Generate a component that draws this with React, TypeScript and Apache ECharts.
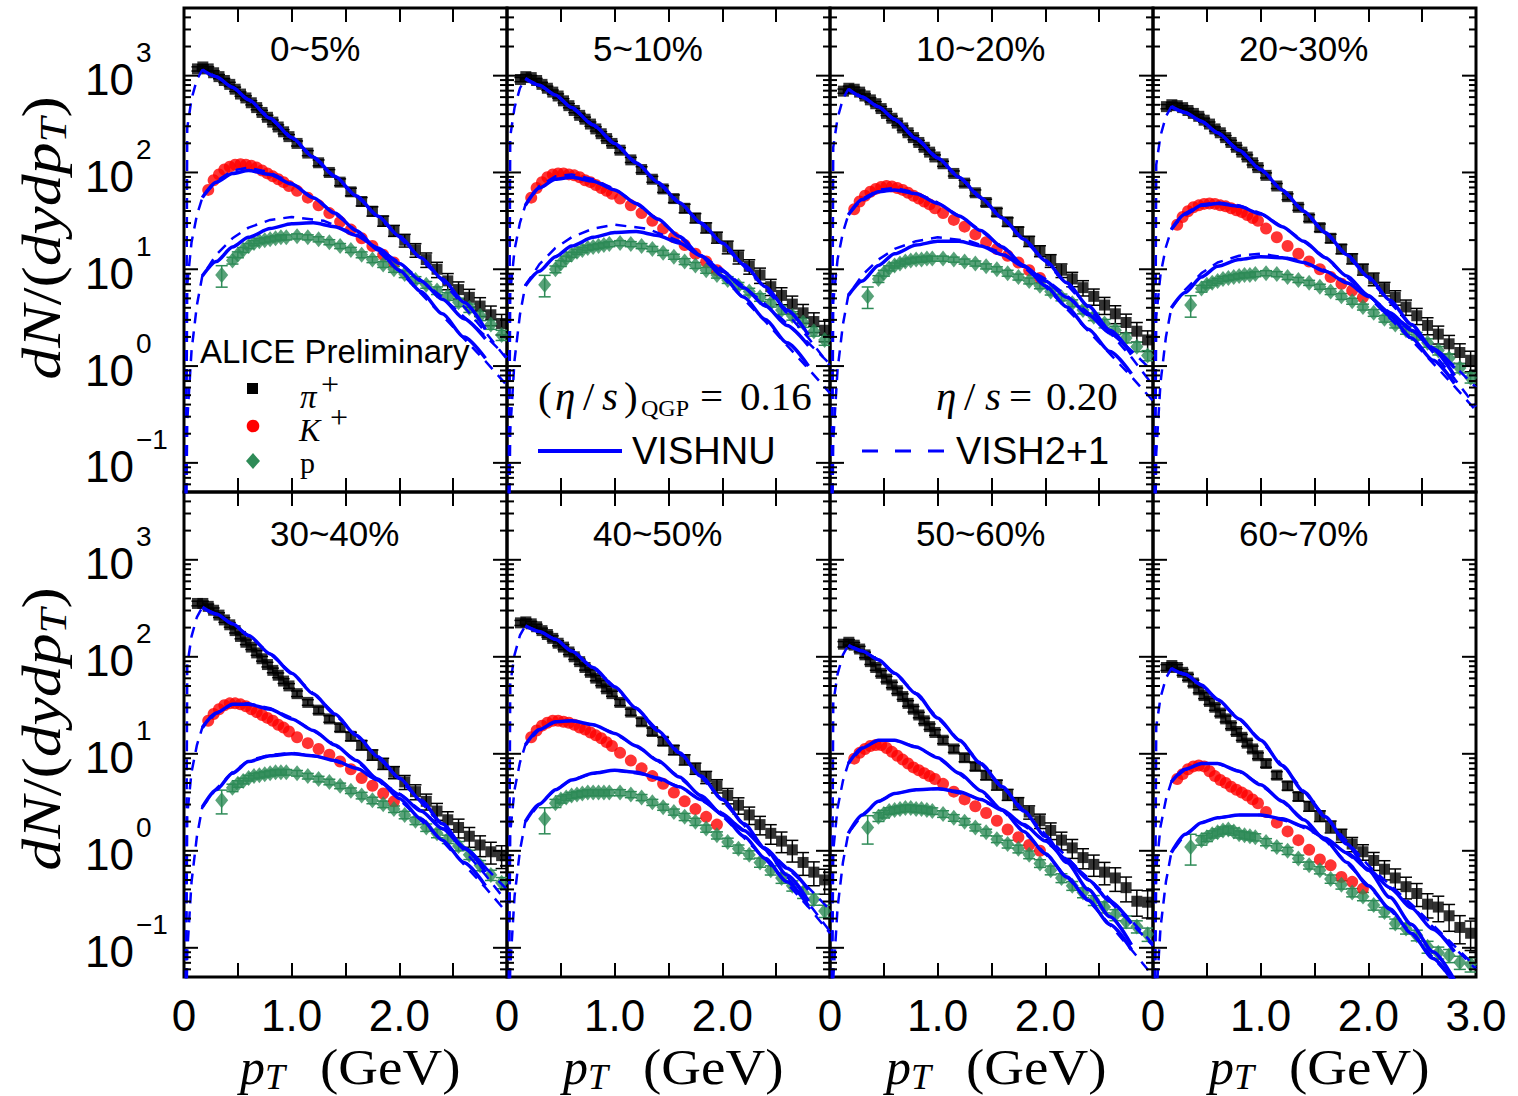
import React, { useEffect, useRef } from 'react';
import * as echarts from 'echarts';

const SANS = '"Liberation Sans", Arial, Helvetica, sans-serif';
const SERIF = '"Liberation Serif", "Times New Roman", serif';

const centralityLabels = ['0~5%', '5~10%', '10~20%', '20~30%', '30~40%', '40~50%', '50~60%', '60~70%'];

// pT grids (GeV)
const pionPt = [0.125, 0.175, 0.225, 0.275, 0.325, 0.375, 0.425, 0.475, 0.525, 0.575, 0.625, 0.675, 0.725, 0.775, 0.825, 0.875, 0.925, 0.975,
  1.05, 1.15, 1.25, 1.35, 1.45, 1.55, 1.65, 1.75, 1.85, 1.95, 2.05, 2.15, 2.25, 2.35, 2.45, 2.55, 2.65, 2.75, 2.85, 2.95];
const kaonPt = [0.225, 0.275, 0.325, 0.375, 0.425, 0.475, 0.525, 0.575, 0.625, 0.675, 0.725, 0.775, 0.825, 0.875, 0.925, 0.975,
  1.05, 1.15, 1.25, 1.35, 1.45, 1.55, 1.65, 1.75, 1.85, 1.95];
const protonPt = [0.35, 0.45, 0.5, 0.55, 0.6, 0.65, 0.7, 0.75, 0.8, 0.85, 0.9, 0.95,
  1.05, 1.15, 1.25, 1.35, 1.45, 1.55, 1.65, 1.75, 1.85, 1.95, 2.05, 2.15, 2.25, 2.35, 2.45, 2.55, 2.65, 2.75, 2.85, 2.95];
const vishnuPt = [0.17, 0.3, 0.45, 0.6, 0.8, 1.0, 1.2, 1.4, 1.6, 1.8, 2.0, 2.2, 2.4, 2.6, 2.8];
const vish2p1Pt = [0.012, 0.03, 0.07, 0.12, 0.17, 0.3, 0.45, 0.6, 0.8, 1.0, 1.3, 1.6, 2.0, 2.4, 2.8, 3.0];

// ALICE preliminary data, log10 of dN/(dy dpT), one row per centrality class
const pionLog10 = [
  [3.07, 3.09, 3.07, 3.03, 2.99, 2.95, 2.91, 2.86, 2.81, 2.77, 2.72, 2.67, 2.62, 2.57, 2.52, 2.47, 2.42, 2.37, 2.30, 2.20, 2.10, 2.00, 1.90, 1.80, 1.70, 1.60, 1.50, 1.40, 1.30, 1.20, 1.10, 1.00, 0.88, 0.79, 0.71, 0.62, 0.53, 0.44],
  [2.96, 2.99, 2.98, 2.95, 2.91, 2.87, 2.83, 2.79, 2.74, 2.69, 2.64, 2.59, 2.55, 2.50, 2.45, 2.40, 2.35, 2.30, 2.23, 2.13, 2.03, 1.93, 1.83, 1.73, 1.63, 1.53, 1.43, 1.33, 1.23, 1.13, 1.03, 0.94, 0.82, 0.73, 0.64, 0.55, 0.46, 0.37],
  [2.84, 2.87, 2.86, 2.83, 2.79, 2.75, 2.71, 2.66, 2.61, 2.56, 2.51, 2.46, 2.41, 2.36, 2.31, 2.26, 2.21, 2.16, 2.09, 1.99, 1.89, 1.79, 1.69, 1.59, 1.49, 1.39, 1.29, 1.19, 1.09, 0.99, 0.90, 0.81, 0.72, 0.63, 0.54, 0.45, 0.36, 0.27],
  [2.68, 2.70, 2.69, 2.67, 2.64, 2.61, 2.58, 2.54, 2.50, 2.45, 2.41, 2.36, 2.31, 2.26, 2.21, 2.16, 2.10, 2.05, 1.97, 1.86, 1.75, 1.64, 1.53, 1.43, 1.32, 1.21, 1.11, 1.00, 0.90, 0.80, 0.71, 0.61, 0.52, 0.42, 0.33, 0.23, 0.14, 0.06],
  [2.55, 2.55, 2.52, 2.48, 2.43, 2.38, 2.33, 2.27, 2.21, 2.15, 2.10, 2.04, 1.98, 1.92, 1.86, 1.81, 1.75, 1.70, 1.62, 1.53, 1.45, 1.36, 1.27, 1.18, 1.09, 0.99, 0.90, 0.81, 0.71, 0.61, 0.51, 0.41, 0.32, 0.24, 0.15, 0.06, -0.01, -0.05],
  [2.35, 2.36, 2.34, 2.31, 2.27, 2.23, 2.19, 2.14, 2.10, 2.05, 2.00, 1.95, 1.89, 1.84, 1.78, 1.73, 1.67, 1.62, 1.53, 1.43, 1.33, 1.23, 1.13, 1.04, 0.94, 0.85, 0.76, 0.67, 0.57, 0.47, 0.37, 0.27, 0.18, 0.10, 0.01, -0.12, -0.22, -0.30],
  [2.13, 2.15, 2.12, 2.08, 2.02, 1.95, 1.89, 1.83, 1.77, 1.71, 1.65, 1.59, 1.52, 1.46, 1.40, 1.34, 1.28, 1.22, 1.14, 1.05, 0.96, 0.87, 0.78, 0.68, 0.58, 0.49, 0.40, 0.31, 0.21, 0.11, 0.03, -0.07, -0.14, -0.22, -0.28, -0.38, -0.52, -0.53],
  [1.89, 1.91, 1.89, 1.84, 1.79, 1.73, 1.66, 1.60, 1.54, 1.48, 1.42, 1.36, 1.29, 1.23, 1.17, 1.11, 1.05, 0.98, 0.90, 0.78, 0.67, 0.56, 0.46, 0.36, 0.25, 0.16, 0.07, -0.01, -0.10, -0.19, -0.28, -0.37, -0.44, -0.55, -0.58, -0.67, -0.79, -0.85],
];
const kaonLog10 = [
  [1.82, 1.92, 1.98, 2.03, 2.06, 2.08, 2.085, 2.08, 2.07, 2.05, 2.02, 1.99, 1.96, 1.93, 1.90, 1.86, 1.81, 1.74, 1.66, 1.58, 1.49, 1.41, 1.32, 1.24, 1.15, 1.07],
  [1.74, 1.84, 1.90, 1.95, 1.98, 1.99, 1.99, 1.98, 1.97, 1.95, 1.92, 1.90, 1.87, 1.84, 1.81, 1.78, 1.73, 1.66, 1.58, 1.50, 1.42, 1.33, 1.25, 1.16, 1.08, 0.99],
  [1.62, 1.70, 1.76, 1.80, 1.83, 1.85, 1.86, 1.855, 1.84, 1.82, 1.79, 1.76, 1.73, 1.70, 1.67, 1.63, 1.58, 1.51, 1.44, 1.36, 1.28, 1.21, 1.14, 1.07, 0.99, 0.91],
  [1.46, 1.54, 1.60, 1.64, 1.66, 1.675, 1.68, 1.675, 1.66, 1.65, 1.63, 1.61, 1.59, 1.56, 1.53, 1.50, 1.42, 1.33, 1.24, 1.16, 1.08, 1.00, 0.92, 0.85, 0.78, 0.71],
  [1.34, 1.41, 1.46, 1.50, 1.52, 1.52, 1.51, 1.49, 1.46, 1.43, 1.40, 1.37, 1.34, 1.30, 1.27, 1.23, 1.17, 1.11, 1.05, 0.99, 0.92, 0.84, 0.75, 0.67, 0.59, 0.51],
  [1.17, 1.24, 1.29, 1.32, 1.34, 1.34, 1.33, 1.32, 1.30, 1.27, 1.25, 1.22, 1.19, 1.16, 1.12, 1.08, 1.01, 0.93, 0.85, 0.77, 0.69, 0.60, 0.51, 0.43, 0.35, 0.27],
  [0.95, 1.01, 1.05, 1.08, 1.09, 1.09, 1.06, 1.02, 0.98, 0.94, 0.90, 0.86, 0.83, 0.80, 0.77, 0.74, 0.69, 0.61, 0.53, 0.46, 0.39, 0.31, 0.22, 0.14, 0.06, 0.00],
  [0.74, 0.79, 0.84, 0.87, 0.88, 0.87, 0.82, 0.77, 0.73, 0.70, 0.66, 0.63, 0.60, 0.57, 0.53, 0.49, 0.40, 0.29, 0.20, 0.11, 0.01, -0.09, -0.15, -0.27, -0.32, -0.39],
];
const protonLog10 = [
  [0.94, 1.09, 1.15, 1.20, 1.24, 1.27, 1.29, 1.30, 1.31, 1.32, 1.33, 1.33, 1.34, 1.33, 1.31, 1.28, 1.24, 1.20, 1.15, 1.10, 1.05, 1.00, 0.95, 0.89, 0.84, 0.78, 0.72, 0.66, 0.60, 0.52, 0.43, 0.32],
  [0.84, 1.00, 1.06, 1.11, 1.15, 1.18, 1.20, 1.22, 1.23, 1.24, 1.25, 1.26, 1.27, 1.26, 1.24, 1.21, 1.17, 1.13, 1.08, 1.04, 0.99, 0.94, 0.89, 0.83, 0.77, 0.71, 0.65, 0.58, 0.52, 0.45, 0.36, 0.27],
  [0.72, 0.90, 0.96, 1.01, 1.04, 1.06, 1.08, 1.09, 1.10, 1.10, 1.11, 1.11, 1.11, 1.10, 1.08, 1.06, 1.03, 1.00, 0.96, 0.92, 0.88, 0.83, 0.77, 0.71, 0.65, 0.58, 0.51, 0.44, 0.37, 0.29, 0.20, 0.11],
  [0.63, 0.80, 0.84, 0.86, 0.88, 0.90, 0.91, 0.92, 0.93, 0.94, 0.94, 0.95, 0.96, 0.95, 0.92, 0.89, 0.86, 0.82, 0.77, 0.72, 0.67, 0.61, 0.55, 0.49, 0.43, 0.37, 0.31, 0.24, 0.16, 0.08, -0.02, -0.12],
  [0.52, 0.65, 0.69, 0.72, 0.75, 0.77, 0.78, 0.79, 0.80, 0.81, 0.81, 0.81, 0.80, 0.77, 0.74, 0.71, 0.67, 0.62, 0.57, 0.52, 0.48, 0.43, 0.37, 0.31, 0.24, 0.18, 0.12, 0.05, -0.04, -0.15, -0.25, -0.33],
  [0.33, 0.49, 0.53, 0.55, 0.57, 0.58, 0.59, 0.60, 0.60, 0.60, 0.60, 0.60, 0.60, 0.58, 0.55, 0.50, 0.45, 0.40, 0.35, 0.30, 0.23, 0.16, 0.09, 0.02, -0.04, -0.12, -0.20, -0.28, -0.36, -0.43, -0.50, -0.62],
  [0.24, 0.35, 0.38, 0.41, 0.42, 0.43, 0.44, 0.44, 0.43, 0.43, 0.42, 0.41, 0.38, 0.34, 0.30, 0.24, 0.19, 0.12, 0.07, 0.02, -0.04, -0.13, -0.20, -0.28, -0.36, -0.43, -0.51, -0.58, -0.66, -0.73, -0.78, -0.86],
  [0.04, 0.11, 0.14, 0.17, 0.19, 0.21, 0.22, 0.20, 0.17, 0.16, 0.15, 0.14, 0.09, 0.04, 0.00, -0.08, -0.15, -0.20, -0.29, -0.35, -0.43, -0.47, -0.56, -0.63, -0.75, -0.80, -0.87, -0.99, -1.05, -1.08, -1.15, -1.17],
];

// relative uncertainties
const pionRelErr = [0.05, 0.05, 0.05, 0.05, 0.05, 0.05, 0.05, 0.05, 0.05, 0.05, 0.05, 0.05, 0.05, 0.05, 0.05, 0.05, 0.05, 0.05,
  0.06, 0.06, 0.07, 0.07, 0.08, 0.09, 0.10, 0.11, 0.12, 0.13, 0.15, 0.16, 0.17, 0.18, 0.19, 0.20, 0.21, 0.22, 0.23, 0.24];
const protonRelErr = [0.25, 0.08, 0.07, 0.06, 0.06, 0.06, 0.06, 0.06, 0.06, 0.06, 0.06, 0.06,
  0.06, 0.06, 0.06, 0.06, 0.06, 0.06, 0.07, 0.07, 0.07, 0.07, 0.08, 0.08, 0.08, 0.09, 0.09, 0.10, 0.10, 0.11, 0.11, 0.12];
const errScale = [1, 1, 1, 1, 1.1, 1.2, 1.3, 1.4];

// VISHNU (solid), log10 values on vishnuPt
const vishnuPionLog10 = [
  [3.06, 2.99, 2.88, 2.75, 2.56, 2.36, 2.16, 1.96, 1.76, 1.55, 1.34, 1.12, 0.90, 0.66, 0.38],
  [2.97, 2.90, 2.80, 2.67, 2.49, 2.30, 2.10, 1.90, 1.69, 1.48, 1.27, 1.05, 0.82, 0.58, 0.32],
  [2.86, 2.78, 2.68, 2.55, 2.35, 2.15, 1.95, 1.74, 1.53, 1.31, 1.09, 0.86, 0.62, 0.37, 0.12],
  [2.68, 2.62, 2.53, 2.41, 2.23, 2.03, 1.82, 1.60, 1.38, 1.15, 0.92, 0.68, 0.43, 0.17, -0.10],
  [2.51, 2.44, 2.34, 2.22, 2.03, 1.83, 1.62, 1.41, 1.19, 0.97, 0.75, 0.52, 0.28, 0.03, -0.22],
  [2.32, 2.26, 2.18, 2.06, 1.89, 1.69, 1.47, 1.24, 1.01, 0.77, 0.53, 0.28, 0.02, -0.25, -0.52],
  [2.12, 2.06, 1.97, 1.83, 1.62, 1.37, 1.14, 0.90, 0.66, 0.41, 0.15, -0.12, -0.40, -0.68, -0.97],
  [1.88, 1.82, 1.71, 1.56, 1.36, 1.14, 0.88, 0.61, 0.35, 0.07, -0.20, -0.48, -0.76, -1.04, -1.33],
];
const vishnuKaonLog10 = [
  [1.74, 1.90, 1.99, 2.02, 1.98, 1.88, 1.74, 1.58, 1.40, 1.20, 0.99, 0.77, 0.54, 0.30, 0.08],
  [1.66, 1.84, 1.93, 1.95, 1.91, 1.82, 1.68, 1.52, 1.34, 1.14, 0.93, 0.71, 0.48, 0.24, 0.00],
  [1.56, 1.72, 1.80, 1.82, 1.78, 1.68, 1.55, 1.40, 1.23, 1.04, 0.83, 0.61, 0.38, 0.15, -0.08],
  [1.41, 1.57, 1.66, 1.68, 1.65, 1.57, 1.44, 1.29, 1.12, 0.93, 0.73, 0.52, 0.29, 0.06, -0.18],
  [1.27, 1.42, 1.51, 1.51, 1.46, 1.36, 1.24, 1.09, 0.93, 0.74, 0.54, 0.33, 0.11, -0.12, -0.36],
  [1.09, 1.25, 1.33, 1.34, 1.30, 1.21, 1.08, 0.93, 0.76, 0.57, 0.37, 0.15, -0.08, -0.32, -0.57],
  [0.90, 1.06, 1.14, 1.14, 1.07, 0.96, 0.80, 0.62, 0.42, 0.20, -0.03, -0.27, -0.51, -0.76, -1.02],
  [0.71, 0.84, 0.90, 0.90, 0.82, 0.68, 0.51, 0.32, 0.11, -0.12, -0.36, -0.60, -0.85, -1.11, -1.37],
];
const vishnuProtonLog10 = [
  [0.93, 1.08, 1.23, 1.33, 1.42, 1.47, 1.48, 1.44, 1.35, 1.22, 1.06, 0.88, 0.69, 0.49, 0.28],
  [0.83, 0.98, 1.13, 1.24, 1.33, 1.38, 1.39, 1.35, 1.27, 1.14, 0.98, 0.81, 0.62, 0.42, 0.21],
  [0.73, 0.88, 1.04, 1.16, 1.25, 1.29, 1.29, 1.24, 1.15, 1.03, 0.88, 0.71, 0.53, 0.34, 0.14],
  [0.60, 0.76, 0.92, 1.03, 1.10, 1.13, 1.12, 1.07, 0.98, 0.86, 0.72, 0.55, 0.37, 0.18, -0.02],
  [0.45, 0.63, 0.80, 0.92, 0.98, 1.00, 0.98, 0.93, 0.85, 0.73, 0.58, 0.41, 0.23, 0.03, -0.18],
  [0.30, 0.48, 0.63, 0.73, 0.80, 0.83, 0.81, 0.75, 0.66, 0.53, 0.38, 0.21, 0.02, -0.18, -0.40],
  [0.18, 0.37, 0.51, 0.59, 0.63, 0.64, 0.61, 0.53, 0.42, 0.27, 0.10, -0.09, -0.30, -0.52, -0.75],
  [-0.02, 0.17, 0.29, 0.34, 0.37, 0.37, 0.33, 0.25, 0.13, -0.02, -0.19, -0.38, -0.59, -0.81, -1.04],
];

// VISH2+1 (dashed), log10 values on vish2p1Pt
const vish2p1PionLog10 = [
  [-2.5, 2.46, 2.76, 2.96, 3.06, 2.99, 2.88, 2.75, 2.56, 2.36, 2.06, 1.76, 1.33, 0.88, 0.35, 0.07],
  [-2.5, 2.37, 2.67, 2.87, 2.97, 2.90, 2.80, 2.67, 2.49, 2.30, 2.00, 1.69, 1.26, 0.80, 0.29, 0.00],
  [-2.5, 2.26, 2.56, 2.76, 2.86, 2.78, 2.68, 2.55, 2.35, 2.15, 1.85, 1.53, 1.08, 0.60, 0.09, -0.20],
  [-2.5, 2.08, 2.38, 2.58, 2.68, 2.62, 2.53, 2.41, 2.23, 2.03, 1.71, 1.38, 0.91, 0.41, -0.13, -0.42],
  [-2.5, 1.91, 2.21, 2.41, 2.51, 2.44, 2.34, 2.22, 2.03, 1.83, 1.52, 1.19, 0.74, 0.26, -0.25, -0.53],
  [-2.5, 1.72, 2.02, 2.22, 2.32, 2.26, 2.18, 2.06, 1.89, 1.69, 1.36, 1.01, 0.52, 0.01, -0.54, -0.83],
  [-2.5, 1.52, 1.82, 2.02, 2.12, 2.06, 1.97, 1.83, 1.62, 1.37, 1.02, 0.66, 0.17, -0.30, -0.75, -0.98],
  [-2.5, 1.28, 1.58, 1.78, 1.88, 1.82, 1.71, 1.56, 1.36, 1.14, 0.75, 0.35, -0.15, -0.55, -0.98, -1.20],
];
const vish2p1KaonLog10 = [
  [-2.5, 0.84, 1.28, 1.56, 1.74, 1.91, 2.02, 2.05, 2.00, 1.89, 1.66, 1.40, 0.98, 0.52, 0.05, -0.20],
  [-2.5, 0.76, 1.20, 1.48, 1.66, 1.86, 1.96, 1.98, 1.93, 1.83, 1.60, 1.34, 0.92, 0.46, -0.03, -0.28],
  [-2.5, 0.66, 1.10, 1.38, 1.56, 1.73, 1.82, 1.84, 1.79, 1.69, 1.48, 1.23, 0.82, 0.36, -0.11, -0.36],
  [-2.5, 0.51, 0.95, 1.23, 1.41, 1.58, 1.67, 1.69, 1.66, 1.58, 1.37, 1.12, 0.72, 0.27, -0.21, -0.46],
  [-2.5, 0.37, 0.81, 1.09, 1.27, 1.42, 1.51, 1.52, 1.47, 1.37, 1.17, 0.93, 0.53, 0.10, -0.38, -0.64],
  [-2.5, 0.19, 0.63, 0.91, 1.09, 1.25, 1.33, 1.34, 1.30, 1.21, 1.01, 0.76, 0.36, -0.09, -0.58, -0.85],
  [-2.5, 0.00, 0.44, 0.72, 0.90, 1.06, 1.14, 1.14, 1.07, 0.96, 0.71, 0.42, -0.03, -0.51, -1.02, -1.29],
  [-2.5, -0.19, 0.25, 0.53, 0.71, 0.84, 0.90, 0.90, 0.82, 0.68, 0.42, 0.11, -0.36, -0.85, -1.35, -1.62],
];
const vish2p1ProtonLog10 = [
  [-2.5, -0.57, 0.16, 0.63, 0.93, 1.15, 1.32, 1.43, 1.51, 1.54, 1.50, 1.36, 1.07, 0.71, 0.31, 0.09],
  [-2.5, -0.67, 0.06, 0.53, 0.83, 1.05, 1.22, 1.33, 1.42, 1.46, 1.42, 1.29, 1.00, 0.64, 0.24, 0.02],
  [-2.5, -0.77, -0.04, 0.43, 0.73, 0.94, 1.10, 1.21, 1.29, 1.33, 1.29, 1.17, 0.90, 0.55, 0.16, -0.06],
  [-2.5, -0.90, -0.17, 0.30, 0.60, 0.79, 0.96, 1.07, 1.14, 1.16, 1.11, 0.99, 0.73, 0.38, 0.00, -0.22],
  [-2.5, -1.05, -0.32, 0.15, 0.45, 0.64, 0.81, 0.93, 0.99, 1.01, 0.96, 0.85, 0.59, 0.24, -0.17, -0.40],
  [-2.5, -1.20, -0.47, 0.00, 0.30, 0.48, 0.63, 0.73, 0.80, 0.83, 0.78, 0.66, 0.39, 0.03, -0.38, -0.61],
  [-2.5, -1.32, -0.59, -0.12, 0.18, 0.37, 0.51, 0.59, 0.63, 0.64, 0.57, 0.42, 0.10, -0.28, -0.72, -0.96],
  [-2.5, -1.52, -0.79, -0.32, -0.02, 0.17, 0.29, 0.34, 0.37, 0.37, 0.29, 0.13, -0.19, -0.57, -1.00, -1.22],
];

const majorTicks = [0.1, 1, 10, 100, 1000];
const minorTicks = [0.06, 0.07, 0.08, 0.09, 0.2, 0.3, 0.4, 0.5, 0.6, 0.7, 0.8, 0.9, 2, 3, 4, 5, 6, 7, 8, 9,
  20, 30, 40, 50, 60, 70, 80, 90, 200, 300, 400, 500, 600, 700, 800, 900, 2000, 3000, 4000];

const BLUE = '#0000ff';
const RED = '#ff0000';
const GREEN = '#2e8b57';

const PANEL_LEFT = 184;
const PANEL_W = 323;
const ROW_TOP = [8, 492];
const ROW_H = [484, 485];

function pts(x: number[], logs: number[]) {
  return x.map((v, k) => [v, Math.pow(10, logs[k])]);
}
function errPts(x: number[], logs: number[], rel: number[], s: number) {
  return x.map((v, k) => {
    const y = Math.pow(10, logs[k]);
    const e = rel[k] * s;
    return [v, y * (1 - e), y * (1 + e)];
  });
}

function errRender(color: string) {
  return (params: any, api: any) => {
    const x = api.value(0);
    const lo = api.value(1);
    const hi = api.value(2);
    const a = api.coord([x, lo]);
    const b = api.coord([x, hi]);
    const w = 6;
    const st = { stroke: color, lineWidth: 1.5 };
    return {
      type: 'group',
      children: [
        { type: 'line', shape: { x1: a[0], y1: a[1], x2: b[0], y2: b[1] }, style: st },
        { type: 'line', shape: { x1: b[0] - w, y1: b[1], x2: b[0] + w, y2: b[1] }, style: st },
        { type: 'line', shape: { x1: a[0] - w, y1: a[1], x2: a[0] + w, y2: a[1] }, style: st },
      ],
    };
  };
}

function txt(x: number, y: number, text: string, size: number, opts: any = {}) {
  const { family = SERIF, italic = false, align = 'left', scaleX = 1, lineHeight } = opts;
  const el: any = {
    type: 'text', x, y,
    style: {
      text, fontSize: size, fontFamily: family, fontStyle: italic ? 'italic' : 'normal', fill: '#000',
      align, verticalAlign: 'middle', lineHeight: lineHeight || Math.round(size * 1.05),
    },
  };
  if (scaleX !== 1) el.scaleX = scaleX;
  return el;
}

function buildOption() {
  const grid: any[] = [];
  const xAxis: any[] = [];
  const yAxis: any[] = [];
  const series: any[] = [];

  for (let i = 0; i < 8; i++) {
    const col = i % 4;
    const row = Math.floor(i / 4);
    grid.push({
      left: PANEL_LEFT + col * PANEL_W, top: ROW_TOP[row], width: PANEL_W, height: ROW_H[row],
      show: true, borderColor: '#000', borderWidth: 3, backgroundColor: 'transparent', containLabel: false,
    });
    const isLastCol = col === 3;
    const xFmt = (v: number) => {
      if (Math.abs(v) < 1e-9) return '0';
      if (Math.abs(v - 1) < 1e-9) return '1.0';
      if (Math.abs(v - 2) < 1e-9) return '2.0';
      if (Math.abs(v - 3) < 1e-9 && isLastCol) return '3.0';
      return '';
    };
    const xBase = {
      gridIndex: i, type: 'value', min: 0, max: 3, interval: 0.5,
      axisLine: { show: false },
      axisTick: { show: true, inside: true, length: 14, lineStyle: { color: '#000', width: 2 } },
      splitLine: { show: false },
    };
    xAxis.push({
      ...xBase, position: 'bottom',
      axisLabel: {
        show: row === 1, formatter: xFmt, fontSize: 44, fontFamily: SANS, color: '#000', margin: 16,
        hideOverlap: false, showMinLabel: true, showMaxLabel: true,
      },
    });
    xAxis.push({ ...xBase, position: 'top', axisLabel: { show: false } });

    yAxis.push({
      gridIndex: i, type: 'log', logBase: 10, min: 0.05, max: 5000, position: 'left',
      axisLine: { show: false }, axisTick: { show: false }, splitLine: { show: false },
      axisLabel: {
        show: col === 0, align: 'left', margin: 99,
        formatter: (v: number) => {
          const l = Math.log10(v);
          const e = Math.round(l);
          if (Math.abs(l - e) > 1e-6) return '';
          return `{a|10}{b|${e < 0 ? '\u2212' + (-e) : e}}`;
        },
        rich: {
          a: { fontSize: 44, fontFamily: SANS, color: '#000', padding: [8, 0, 0, 0] },
          b: { fontSize: 28, fontFamily: SANS, color: '#000', padding: [0, 0, 46, 2] },
        },
      },
    });

    const xi = 2 * i;
    const yi = i;
    const s = errScale[i];

    series.push({
      type: 'custom', xAxisIndex: xi, yAxisIndex: yi, clip: true, z: 2,
      encode: { x: 0, y: [1, 2] },
      data: errPts(pionPt, pionLog10[i], pionRelErr, s),
      renderItem: errRender('#000'),
    });
    series.push({
      type: 'custom', xAxisIndex: xi, yAxisIndex: yi, clip: true, z: 2,
      encode: { x: 0, y: [1, 2] },
      data: errPts(protonPt, protonLog10[i], protonRelErr, s),
      renderItem: errRender(GREEN),
    });
    series.push({
      type: 'scatter', xAxisIndex: xi, yAxisIndex: yi, symbol: 'rect', symbolSize: 11, z: 3,
      itemStyle: { color: '#000' }, data: pts(pionPt, pionLog10[i]), clip: true,
    });
    series.push({
      type: 'scatter', xAxisIndex: xi, yAxisIndex: yi, symbol: 'circle', symbolSize: 12, z: 3,
      itemStyle: { color: RED }, data: pts(kaonPt, kaonLog10[i]), clip: true,
    });
    series.push({
      type: 'scatter', xAxisIndex: xi, yAxisIndex: yi, symbol: 'diamond', symbolSize: [13, 16], z: 3,
      itemStyle: { color: GREEN }, data: pts(protonPt, protonLog10[i]), clip: true,
    });
    const dashed = [vish2p1PionLog10[i], vish2p1KaonLog10[i], vish2p1ProtonLog10[i]];
    dashed.forEach((d) => {
      series.push({
        type: 'line', xAxisIndex: xi, yAxisIndex: yi, showSymbol: false, z: 4, clip: true,
        lineStyle: { color: BLUE, width: 2.5, type: [11, 8] }, data: pts(vish2p1Pt, d),
      });
    });
    const solid = [vishnuPionLog10[i], vishnuKaonLog10[i], vishnuProtonLog10[i]];
    solid.forEach((d) => {
      series.push({
        type: 'line', xAxisIndex: xi, yAxisIndex: yi, showSymbol: false, z: 5, clip: true,
        smooth: 0.25, smoothMonotone: 'x',
        lineStyle: { color: BLUE, width: 3.5 }, data: pts(vishnuPt, d),
      });
    });
    const tickData: number[][] = [];
    majorTicks.forEach((v) => { tickData.push([0, v, 1]); tickData.push([3, v, 1]); });
    minorTicks.forEach((v) => { tickData.push([0, v, 0]); tickData.push([3, v, 0]); });
    series.push({
      type: 'custom', xAxisIndex: xi, yAxisIndex: yi, z: 6, silent: true,
      encode: { x: 0, y: 1 },
      data: tickData,
      renderItem: (params: any, api: any) => {
        const side = api.value(0);
        const v = api.value(1);
        const major = api.value(2);
        const p = api.coord([side, v]);
        const len = major ? 14 : 7;
        const dir = side === 0 ? 1 : -1;
        return {
          type: 'line',
          shape: { x1: p[0], y1: p[1], x2: p[0] + dir * len, y2: p[1] },
          style: { stroke: '#000', lineWidth: 2 },
        };
      },
    });
  }

  const graphic: any[] = [];

  // centrality titles
  for (let i = 0; i < 8; i++) {
    const col = i % 4;
    const row = Math.floor(i / 4);
    graphic.push(txt(PANEL_LEFT + col * PANEL_W + 86, row === 0 ? 48 : 533, centralityLabels[i], 35, { family: SANS }));
  }
  // y axis names (rotated)
  [238, 729].forEach((cy) => {
    graphic.push({
      type: 'text', x: 42, y: cy, rotation: Math.PI / 2, scaleX: 1.18,
      style: {
        text: '{i|dN}{r|/(}{i|dydp}{sub|T}{r|)}',
        rich: {
          i: { fontFamily: SERIF, fontStyle: 'italic', fontSize: 54, color: '#000' },
          r: { fontFamily: SERIF, fontSize: 54, color: '#000' },
          sub: { fontFamily: SERIF, fontStyle: 'italic', fontSize: 38, color: '#000', padding: [22, 0, 0, 0] },
        },
        fill: '#000', align: 'center', verticalAlign: 'middle',
      },
    });
  });
  // x axis names
  for (let c = 0; c < 4; c++) {
    const L = PANEL_LEFT + c * PANEL_W;
    graphic.push(txt(L + 56, 1067, 'p', 50, { italic: true, lineHeight: 48 }));
    graphic.push(txt(L + 81, 1077, 'T', 36, { italic: true, lineHeight: 34 }));
    graphic.push(txt(L + 136, 1067, '(GeV)', 50, { scaleX: 1.1, lineHeight: 48 }));
  }
  // ALICE legend
  graphic.push(txt(200, 351, 'ALICE Preliminary', 33, { family: SANS }));
  graphic.push({ type: 'rect', shape: { x: 247, y: 383, width: 11, height: 11 }, style: { fill: '#000' } });
  graphic.push({ type: 'circle', shape: { cx: 253, cy: 426, r: 6.3 }, style: { fill: RED } });
  graphic.push({ type: 'polygon', shape: { points: [[253, 453], [260, 461], [253, 469], [246, 461]] }, style: { fill: GREEN } });
  graphic.push(txt(300, 397, '\u03c0', 33, { italic: true, lineHeight: 24 }));
  graphic.push(txt(321, 384, '+', 32, { lineHeight: 20 }));
  graphic.push(txt(299, 430, 'K', 32, { italic: true, lineHeight: 24 }));
  graphic.push(txt(330, 417, '+', 32, { lineHeight: 20 }));
  graphic.push(txt(300, 462, 'p', 30, { lineHeight: 20 }));

  // model annotations
  const ay = 396;
  graphic.push(txt(538, ay, '(', 41));
  graphic.push(txt(555, ay, '\u03b7', 41, { italic: true }));
  graphic.push(txt(583, ay, '/', 41));
  graphic.push(txt(602, ay, 's', 41, { italic: true }));
  graphic.push(txt(624, ay, ')', 41));
  graphic.push(txt(641, 408, 'QGP', 24));
  graphic.push(txt(700, ay, '=', 41));
  graphic.push(txt(740, ay, '0.16', 41));

  graphic.push(txt(936, ay, '\u03b7', 41, { italic: true }));
  graphic.push(txt(964, ay, '/', 41));
  graphic.push(txt(985, ay, 's', 41, { italic: true }));
  graphic.push(txt(1009, ay, '=', 41));
  graphic.push(txt(1046, ay, '0.20', 41));

  graphic.push({ type: 'line', shape: { x1: 538, y1: 451, x2: 622, y2: 451 }, style: { stroke: BLUE, lineWidth: 4 } });
  graphic.push(txt(632, 451, 'VISHNU', 38, { family: SANS }));
  graphic.push({ type: 'line', shape: { x1: 862, y1: 451, x2: 945, y2: 451 }, style: { stroke: BLUE, lineWidth: 3, lineDash: [16, 17] } });
  graphic.push(txt(956, 451, 'VISH2+1', 38, { family: SANS }));

  return {
    animation: false,
    backgroundColor: '#ffffff',
    grid, xAxis, yAxis, series, graphic,
  };
}

export default function App() {
  const ref = useRef<HTMLDivElement>(null);
  useEffect(() => {
    if (!ref.current) return;
    const chart = echarts.init(ref.current, undefined, { renderer: 'svg' });
    chart.setOption(buildOption() as any);
    return () => chart.dispose();
  }, []);
  return (
    <div
      ref={ref}
      style={{ position: 'fixed', left: 0, top: 0, width: 1518, height: 1096, background: '#fff' }}
    />
  );
}
